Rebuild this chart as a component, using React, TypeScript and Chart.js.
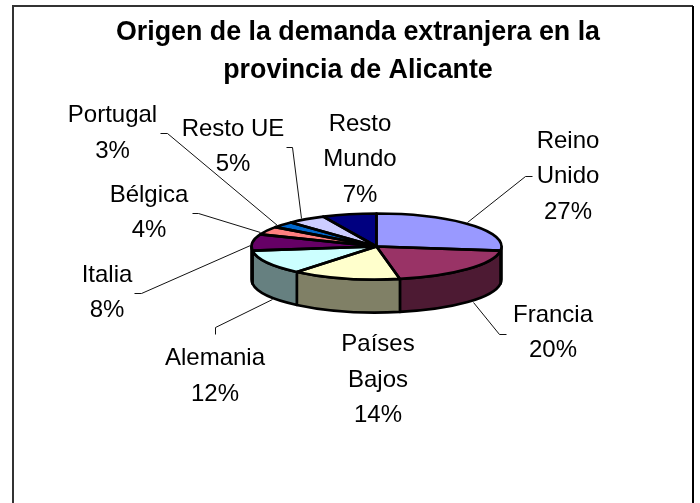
import React, { useEffect, useRef } from "react";
import { Chart, registerables } from "chart.js";

Chart.register(...registerables);

const categories = ["Reino Unido", "Francia", "Países Bajos", "Alemania", "Italia", "Bélgica", "Portugal", "Resto UE", "Resto Mundo"];
const labelLines = [["Reino", "Unido", "27%"], ["Francia", "20%"], ["Países", "Bajos", "14%"], ["Alemania", "12%"], ["Italia", "8%"], ["Bélgica", "4%"], ["Portugal", "3%"], ["Resto UE", "5%"], ["Resto", "Mundo", "7%"]];
const shares = [27, 20, 14, 12, 8, 4, 3, 5, 7];
const topColors = ["#9999FF", "#993366", "#FFFFCC", "#CCFFFF", "#660066", "#FF8080", "#0066CC", "#CCCCFF", "#000080"];
const sideColors = ["#4D4D80", "#4D1A33", "#808066", "#668080", "#330033", "#804040", "#003366", "#666680", "#000040"];
const titleLines = ["Origen de la demanda extranjera en la", "provincia de Alicante"];

const labelAnchors = [[568, 147.5], [553, 321.5], [378, 351], [215, 365], [107, 281.5], [149, 201.5], [112.5, 122], [233, 135.5], [360, 130.5]];
const leaders = [
  [[467, 222], [525, 176], [532, 176]],
  [[473, 302], [499, 334], [506, 334]],
  [],
  [[272, 299], [215, 327], [215, 334]],
  [[250, 245], [141, 293], [134, 293]],
  [[260, 232], [198, 213], [192, 213]],
  [[277, 225], [167, 133], [160, 133]],
  [[301, 218], [292, 147], [286, 147]],
  [],
];

const SQUASH = 33 / 125;
const DEPTH = 33;
const LINE_H = 35.5;
const FONT = '24px "Liberation Sans", Arial, sans-serif';
const TITLE_FONT = 'bold 26.8px "Liberation Sans", Arial, sans-serif';

const pie3d = {
  id: "pie3d",
  beforeDraw(chart: any) {
    const { ctx } = chart;
    ctx.save();
    ctx.fillStyle = "#fff";
    ctx.fillRect(0, 0, 700, 503);
    ctx.strokeStyle = "#333";
    ctx.lineWidth = 2;
    ctx.beginPath();
    ctx.moveTo(13, 504);
    ctx.lineTo(13, 6);
    ctx.lineTo(693, 6);
    ctx.stroke();
    ctx.strokeStyle = "#000";
    ctx.beginPath();
    ctx.moveTo(693, 6);
    ctx.lineTo(693, 504);
    ctx.stroke();
    ctx.restore();
  },
  beforeDatasetsDraw(chart: any) {
    const { ctx } = chart;
    const arcs = chart.getDatasetMeta(0).data;
    const { x: cx, y: cy, outerRadius: r } = arcs[0];
    const ry = r * SQUASH;
    ctx.save();
    ctx.lineWidth = 2.6;
    ctx.strokeStyle = "#000";
    ctx.lineJoin = "round";
    arcs.forEach((a: any, i: number) => {
      const norm = (t: number) => ((t % (2 * Math.PI)) + 2 * Math.PI) % (2 * Math.PI);
      const s0 = norm(a.startAngle);
      const e0 = s0 + (a.endAngle - a.startAngle);
      const ranges = [[s0, e0], [s0 - 2 * Math.PI, e0 - 2 * Math.PI]];
      ranges.forEach(([s, e]) => {
        const s1 = Math.max(s, 0);
        const e1 = Math.min(e, Math.PI);
        if (e1 <= s1) return;
        ctx.beginPath();
        ctx.ellipse(cx, cy, r, ry, 0, s1, e1);
        ctx.ellipse(cx, cy + DEPTH, r, ry, 0, e1, s1, true);
        ctx.closePath();
        ctx.fillStyle = sideColors[i];
        ctx.fill();
        ctx.stroke();
      });
    });
    ctx.restore();
    ctx.save();
    ctx.translate(cx, cy);
    ctx.scale(1, SQUASH);
    ctx.translate(-cx, -cy);
  },
  afterDatasetsDraw(chart: any) {
    const { ctx } = chart;
    ctx.restore();
    const arcs = chart.getDatasetMeta(0).data;
    ctx.save();
    ctx.strokeStyle = "#000";
    ctx.lineWidth = 2.6;
    ctx.lineJoin = "round";
    arcs.forEach((a: any) => {
      ctx.beginPath();
      ctx.moveTo(a.x, a.y);
      ctx.ellipse(a.x, a.y, a.outerRadius, a.outerRadius * SQUASH, 0, a.startAngle, a.endAngle);
      ctx.closePath();
      ctx.stroke();
    });
    ctx.lineWidth = 1;
    ctx.strokeStyle = "#111";
    leaders.forEach((pts) => {
      if (!pts.length) return;
      ctx.beginPath();
      pts.forEach(([x, y], k) => (k ? ctx.lineTo(x + 0.5, y + 0.5) : ctx.moveTo(x + 0.5, y + 0.5)));
      ctx.stroke();
    });
    ctx.fillStyle = "#000";
    ctx.font = FONT;
    ctx.textAlign = "center";
    ctx.textBaseline = "alphabetic";
    labelLines.forEach((lines, i) => {
      lines.forEach((t, k) => ctx.fillText(t, labelAnchors[i][0], labelAnchors[i][1] + k * LINE_H));
    });
    ctx.font = TITLE_FONT;
    ctx.fillText(titleLines[0], 358, 40);
    ctx.fillText(titleLines[1], 358, 78);
    ctx.restore();
  },
};

export default function App() {
  const ref = useRef<HTMLCanvasElement>(null);
  useEffect(() => {
    const chart = new Chart(ref.current!, {
      type: "pie",
      data: {
        labels: categories,
        datasets: [{ data: shares, backgroundColor: topColors, borderWidth: 0, clip: false } as any],
      },
      options: {
        responsive: false,
        animation: false,
        layout: { padding: { left: 251.5, right: 198.5, top: 121.5, bottom: 131.5 } },
        plugins: {
          legend: { display: false },
          tooltip: { enabled: false },
          title: { display: false },
        },
      },
      plugins: [pie3d],
    });
    return () => chart.destroy();
  }, []);
  return (
    <div style={{ position: "absolute", left: 0, top: 0, width: 700, height: 503, overflow: "hidden" }}>
      <canvas ref={ref} width={700} height={503} style={{ display: "block" }} />
    </div>
  );
}
